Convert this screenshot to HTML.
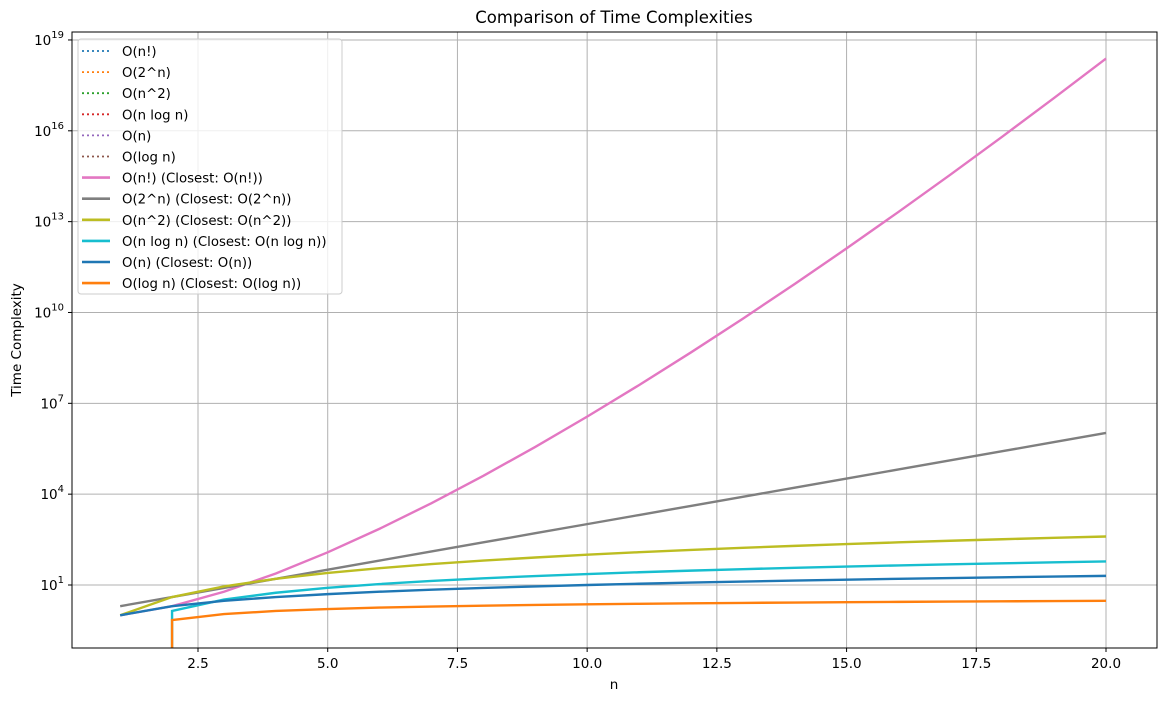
<!DOCTYPE html>
<html><head><meta charset="utf-8"><style>
html,body{margin:0;padding:0;overflow:hidden;background:#fff;font-family:"Liberation Sans","DejaVu Sans",sans-serif;width:1165px;height:701px}
svg{display:block}
svg text{font-family:"DejaVu Sans","Liberation Sans",sans-serif;fill:#000}
</style></head><body>
<svg id="chart" width="1165" height="701">
<defs><clipPath id="clip"><rect x="72" y="32" width="1085" height="616"/></clipPath></defs>
<rect x="0" y="0" width="1165" height="701" fill="#fff"/>
<text x="614" y="23" font-size="16.5" text-anchor="middle">Comparison of Time Complexities</text>
<text x="614" y="689" font-size="13.5" text-anchor="middle">n</text>
<text transform="translate(21,340) rotate(-90)" font-size="13.5" text-anchor="middle">Time Complexity</text>
<g id="grid"></g><g id="lines" clip-path="url(#clip)"></g>
<rect x="72" y="32" width="1085" height="616" fill="none" stroke="#000" stroke-width="1"/>
<g id="ticks"></g><g id="legend"></g>
</svg>
<script>
const nValues=[1,2,3,4,5,6,7,8,9,10,11,12,13,14,15,16,17,18,19,20];
const seriesNames=["O(n!) (Closest: O(n!))","O(2^n) (Closest: O(2^n))","O(n^2) (Closest: O(n^2))","O(n log n) (Closest: O(n log n))","O(n) (Closest: O(n))","O(log n) (Closest: O(log n))"];
const seriesColors=["#e377c2","#7f7f7f","#bcbd22","#17becf","#1f77b4","#ff7f0e"];
const dottedNames=["O(n!)","O(2^n)","O(n^2)","O(n log n)","O(n)","O(log n)"];
const dottedColors=["#1f77b4","#ff7f0e","#2ca02c","#d62728","#9467bd","#8c564b"];
const xTicks=[2.5,5.0,7.5,10.0,12.5,15.0,17.5,20.0];
const yTickExps=[1,4,7,10,13,16,19];
function fact(n){let r=1;for(let i=2;i<=n;i++)r*=i;return r;}
const factValues=nValues.map(fact);
const expValues=nValues.map(n=>Math.pow(2,n));
const sqValues=nValues.map(n=>n*n);
const nlognValues=nValues.map(n=>n*Math.log(n));
const linValues=nValues.map(n=>n);
const logValues=nValues.map(n=>Math.log(n));
const seriesValues=[factValues,expValues,sqValues,nlognValues,linValues,logValues];
const NS="http://www.w3.org/2000/svg";
const X=v=>198+(v-2.5)*51.886;
const Y=v=>585-(Math.log10(v)-1)*30.28;
function mk(tag,attrs,parent){const e=document.createElementNS(NS,tag);for(const k in attrs)e.setAttribute(k,attrs[k]);parent.appendChild(e);return e;}
const grid=document.getElementById('grid'),ticks=document.getElementById('ticks'),lines=document.getElementById('lines'),legend=document.getElementById('legend');
xTicks.forEach(t=>{const x=X(t);
 const g=mk('line',{x1:x,x2:x,y1:32,y2:648,stroke:'#b0b0b0','stroke-width':1},grid);
 
 mk('line',{x1:x,x2:x,y1:648,y2:652,stroke:'#000'},ticks);
 const tx=mk('text',{x:x,y:668,'font-size':13.5,'text-anchor':'middle'},ticks);tx.textContent=t.toFixed(1);
 });
yTickExps.forEach(e=>{const y=585-(e-1)*30.28;
 const g=mk('line',{x1:72,x2:1157,y1:y,y2:y,stroke:'#b0b0b0','stroke-width':1},grid);
 
 mk('line',{x1:68,x2:72,y1:y,y2:y,stroke:'#000'},ticks);
 const tx=mk('text',{x:64,y:y+5,'font-size':13.5,'text-anchor':'end'},ticks);
 
 const a=mk('tspan',{},tx);a.textContent='10';const b=mk('tspan',{dy:-7,'font-size':10},tx);b.textContent=String(e);});
seriesValues.forEach((vals,i)=>{
 const pts=vals.map((v,j)=>{
   if(v>0) return [X(nValues[j]),Y(v)];
   const nx=j+1<nValues.length?nValues[j+1]:nValues[j];
   return [X(nx),655];
 });
 const d=pts.map((p,j)=>(j?'L':'M')+p[0].toFixed(2)+','+p[1].toFixed(2)).join('');
 const p=mk('path',{d:d,fill:'none',stroke:seriesColors[i],'stroke-width':2.4},lines);
 });
mk('rect',{x:78,y:39,width:264,height:255,rx:3,fill:'#fff','fill-opacity':0.8,stroke:'#ccc'},legend);
const allNames=dottedNames.concat(seriesNames),allColors=dottedColors.concat(seriesColors);
allNames.forEach((nm,i)=>{const y=51+i*21.1;const dotted=i<6;
 const l=mk('line',{x1:82,x2:110,y1:y,y2:y,stroke:allColors[i],'stroke-width':dotted?1.8:2.6,'stroke-dasharray':dotted?'2,3':'none'},legend);
 
 const t=mk('text',{x:122,y:y+5,'font-size':13.3},legend);t.textContent=nm;
 });
</script>
</body></html>
